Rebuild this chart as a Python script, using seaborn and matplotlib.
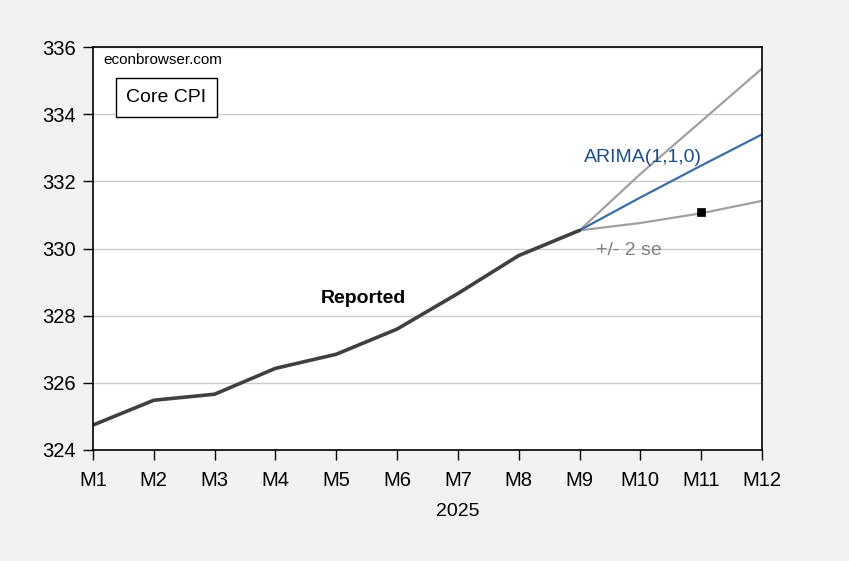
import numpy as np
import pandas as pd
import matplotlib
matplotlib.use("Agg")
import matplotlib.pyplot as plt
import seaborn as sns

# --- data ---
months = ["M1", "M2", "M3", "M4", "M5", "M6", "M7", "M8", "M9", "M10", "M11", "M12"]
reported = [324.74, 325.48, 325.66, 326.43, 326.85, 327.60, 328.66, 329.79, 330.54]
fcst_months = ["M9", "M10", "M11", "M12"]
arima = [330.54, 331.52, 332.47, 333.40]
upper = [330.54, 332.22, 333.79, 335.36]
lower = [330.54, 330.76, 331.05, 331.42]
actual_month = ["M11"]
actual_value = [331.10]

pos = {m: i for i, m in enumerate(months)}
rep_df = pd.DataFrame({"x": [pos[m] for m in months[:len(reported)]], "y": reported})
fc_df = pd.DataFrame({"x": [pos[m] for m in fcst_months],
                      "arima": arima, "upper": upper, "lower": lower})

sns.set_theme(style="white")
plt.rcParams["font.family"] = ["Liberation Sans", "DejaVu Sans"]
plt.rcParams["text.color"] = "black"

fig = plt.figure(figsize=(8.49, 5.61), dpi=100, facecolor="#f2f2f2")
ax = fig.add_axes([0.1095, 0.198, 0.788, 0.718])
ax.set_facecolor("white")

sns.lineplot(data=fc_df, x="x", y="upper", color="#a0a0a0", lw=1.6, ax=ax)
sns.lineplot(data=fc_df, x="x", y="lower", color="#a0a0a0", lw=1.6, ax=ax)
sns.lineplot(data=fc_df, x="x", y="arima", color="#3a6ea5", lw=1.6, ax=ax)
sns.lineplot(data=rep_df, x="x", y="y", color="#404040", lw=2.6, ax=ax)
sns.scatterplot(x=[pos[m] for m in actual_month], y=actual_value, marker="s",
                color="black", s=40, edgecolor="black", zorder=5, ax=ax)

ax.set_xlim(0, 11)
ax.set_ylim(324, 336)
ax.set_xticks(range(len(months)))
ax.set_xticklabels(months)
ax.set_yticks(range(324, 337, 2))
ax.yaxis.grid(True, color="#cccccc", lw=1)
ax.xaxis.grid(False)
ax.set_xlabel("")
ax.set_ylabel("")
for s in ax.spines.values():
    s.set_color("black")
    s.set_linewidth(1.2)
ax.tick_params(axis="both", which="major", direction="out", length=7, width=1,
               color="black", labelsize=14.5, labelcolor="black")
ax.tick_params(axis="x", bottom=True, pad=8)
ax.tick_params(axis="y", left=True, pad=5)

ax.text(0.015, 0.985, "econbrowser.com", transform=ax.transAxes, fontsize=11,
        color="black", ha="left", va="top")
ax.text(0.05, 0.875, "Core CPI", transform=ax.transAxes, fontsize=14,
        color="black", ha="left", va="center",
        bbox=dict(boxstyle="square,pad=0.55", fc="white", ec="black", lw=1))
ax.text(9.05, 332.7, "ARIMA(1,1,0)", fontsize=14, color="#1f4e8c", ha="center", va="center")
ax.text(8.81, 329.95, "+/- 2 se", fontsize=14, color="#808080", ha="center", va="center")
ax.text(4.45, 328.5, "Reported", fontsize=14, fontweight="bold", color="black",
        ha="center", va="center")

fig.text(458 / 849, 1 - 511 / 561, "2025", fontsize=14, color="black",
         ha="center", va="center")

fig.savefig("out.png", dpi=100, facecolor=fig.get_facecolor())
